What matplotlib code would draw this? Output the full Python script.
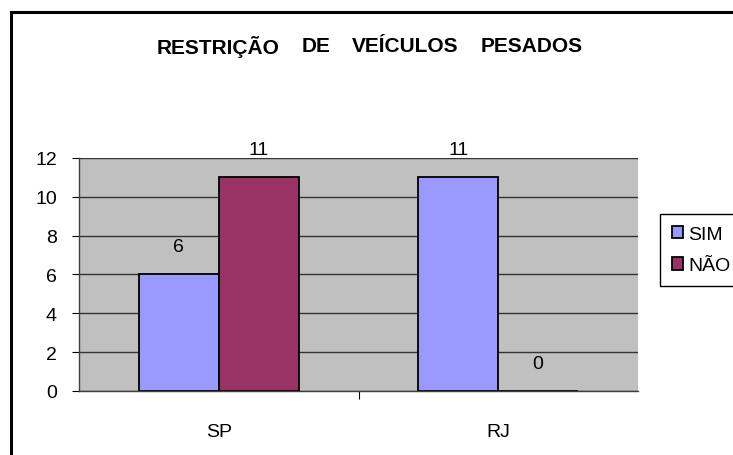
import numpy as np
import matplotlib
matplotlib.use('Agg')
import matplotlib.pyplot as plt
from matplotlib.patches import Rectangle

plt.rcParams['font.family'] = ['Liberation Sans', 'DejaVu Sans']

# dados
categorias = ['SP', 'RJ']
sim = [6, 11]
nao = [11, 0]
series = ['SIM', 'NÃO']
titulo = ['RESTRIÇÃO', 'DE', 'VEÍCULOS', 'PESADOS']

cor_sim = '#9999FF'
cor_nao = '#993366'

fig = plt.figure(figsize=(7.33, 4.56), dpi=100)
ax = fig.add_axes([0.1078, 0.1404, 0.7626, 0.5110])
ax.set_facecolor('#C0C0C0')

x = np.arange(len(categorias))
w = 0.2857
b1 = ax.bar(x - w / 2, sim, w, color=cor_sim, edgecolor='black', linewidth=1.3, label=series[0], zorder=3)
b2 = ax.bar(x + w / 2, nao, w, color=cor_nao, edgecolor='black', linewidth=1.3, label=series[1], zorder=3)
ax.bar_label(b1, padding=14, fontsize=14)
ax.bar_label(b2, padding=14, fontsize=14)

ax.set_xlim(-0.5, 1.5)
ax.set_ylim(0, 12)
ax.set_yticks(np.arange(0, 13, 2))
ax.yaxis.grid(True, color='#333333', linewidth=1, zorder=1)
ax.set_axisbelow(True)
ax.tick_params(axis='y', direction='out', length=5, width=0.8, labelsize=14, pad=11)

# ticks de categoria
ax.set_xticks([0.5])
ax.set_xticklabels([''])
ax.set_xticks(x, minor=True)
ax.set_xticklabels(categorias, minor=True, fontsize=14)
ax.tick_params(axis='x', which='major', direction='out', length=6, width=0.8)
ax.tick_params(axis='x', which='minor', length=0, pad=23)

for s in ['top', 'right']:
    ax.spines[s].set_visible(False)
for s in ['left', 'bottom']:
    ax.spines[s].set_color('#404040')
    ax.spines[s].set_linewidth(1)
    ax.spines[s].set_zorder(4)

# titulo, palavras espaçadas como no original
for palavra, xc in zip(titulo, [218, 316, 405, 532]):
    fig.text(xc / 733, 0.897, palavra, ha='center', va='center', fontsize=15, fontweight='bold')

leg = fig.legend(handles=[b1, b2], labels=series, loc='upper left',
                 bbox_to_anchor=(660 / 733, 1 - 215 / 456), fontsize=14,
                 fancybox=False, framealpha=1, edgecolor='black',
                 handlelength=0.6, handleheight=0.6, handletextpad=0.25,
                 borderpad=0.6, labelspacing=0.75, borderaxespad=0)
leg.get_frame().set_linewidth(1)

# borda externa
fig.patches.append(Rectangle((11 / 733, -0.1), 1.2, 0.9715 + 0.1, transform=fig.transFigure,
                             fill=False, edgecolor='black', linewidth=2.2))

fig.savefig('out.png', dpi=100)
